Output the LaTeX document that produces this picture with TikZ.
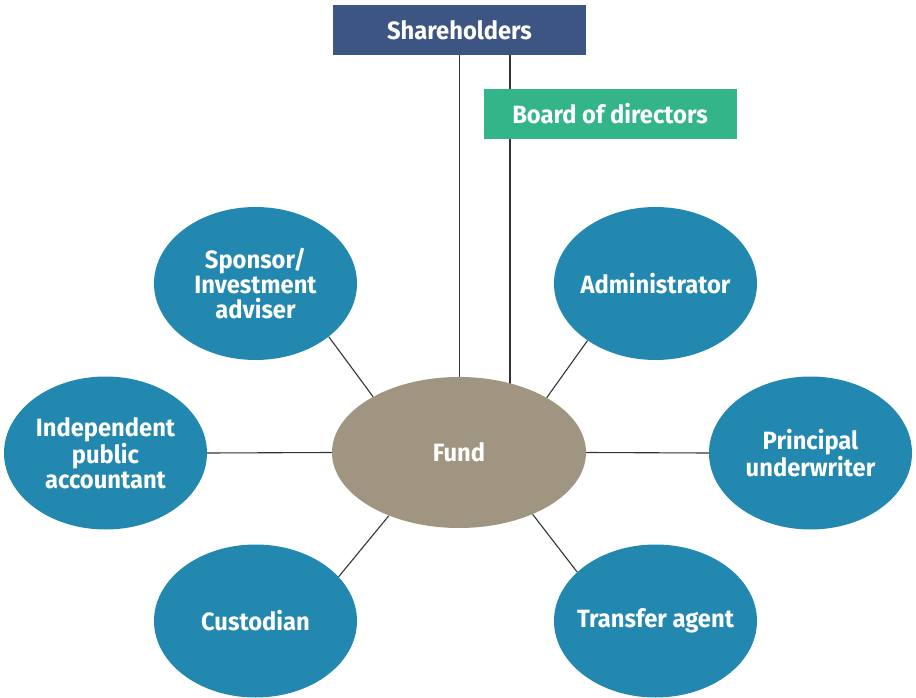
\documentclass[tikz,border=0pt]{standalone}
\usepackage{fontspec}
\setmainfont{Fira Sans}[FakeStretch=0.95]
\usetikzlibrary{shapes.geometric,backgrounds}
\definecolor{shblue}{HTML}{3D5583}
\definecolor{bodgreen}{HTML}{33B589}
\definecolor{ellblue}{HTML}{2388B0}
\definecolor{fundtan}{HTML}{A09580}
\definecolor{linegray}{HTML}{333333}
\tikzset{
  lbl/.style={text=white,font=\bfseries\fontsize{25}{25}\selectfont,align=center},
  role/.style={ellipse,fill=ellblue,minimum width=203,minimum height=153,inner xsep=-20pt,inner ysep=0pt,lbl},
  fundnode/.style={ellipse,fill=fundtan,minimum width=254,minimum height=151,inner sep=0pt,lbl},
  topbox/.style={rectangle,minimum width=253,minimum height=50,inner sep=0pt,lbl},
  conn/.style={draw=linegray,line width=1.1}
}
\begin{document}
\begin{tikzpicture}[x=1pt,y=-1pt]
\useasboundingbox (0,0) rectangle (916,698);
\node[topbox,fill=shblue] (sh) at (459.5,30) {Shareholders};
\node[topbox,fill=bodgreen] (bod) at (610,114) {Board of directors};
\node[fundnode] (fund) at (459,452.5) {Fund};
\node[role] (spons) at (255.5,283.5) {Sponsor/\\Investment\\adviser};
\node[role] (admin) at (655.5,283.5) {Administrator};
\node[role] (acct) at (105.5,453) {Independent\\public\\accountant};
\node[role] (under) at (810.5,453) {Principal\\underwriter};
\node[role] (cust) at (255.5,621) {Custodian};
\node[role] (trans) at (655.5,621) {Transfer agent};
\coordinate (c510) at (510,0);
\begin{scope}[on background layer]
\draw[conn] (sh.south) -- (sh.south |- fund.center);
\draw[conn] (sh.south -| c510) -- (c510 |- fund.center);
\draw[conn] (spons.-36.4) -- (fund.147.2);
\draw[conn] (admin.-140.5) -- (fund.32.8);
\draw[conn] (acct.east) -- (fund.west);
\draw[conn] (under.west) -- (fund.east);
\draw[conn] (cust.28.8) -- (fund.-138.5);
\draw[conn] (trans.148) -- (fund.-40.6);
\end{scope}
\end{tikzpicture}
\end{document}
